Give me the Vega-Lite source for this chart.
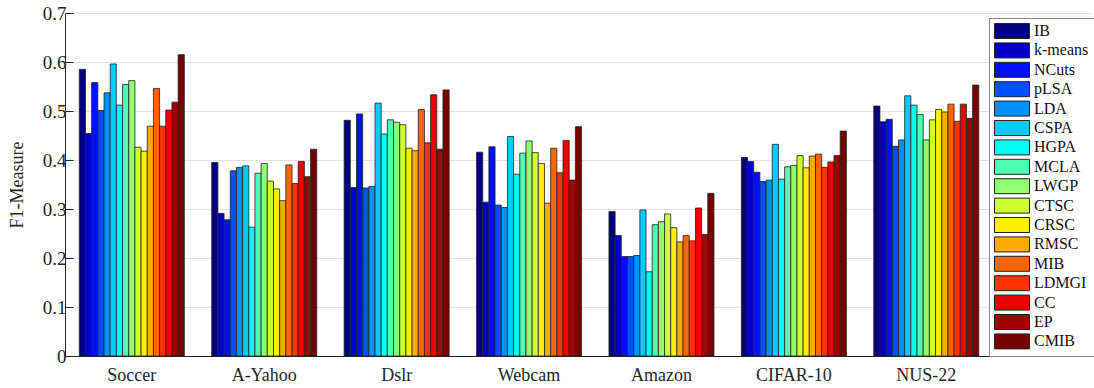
{
  "$schema": "https://vega.github.io/schema/vega-lite/v6.json",
  "autosize": {"type": "none"},
  "padding": {"left": 65, "top": 13, "right": 4, "bottom": 32},
  "width": 1025,
  "height": 343,
  "background": "white",
  "config": {
    "view": {"stroke": null},
    "font": "Liberation Serif",
    "axis": {"labelFont": "Liberation Serif", "titleFont": "Liberation Serif", "labelColor": "#262626", "titleColor": "#262626", "domainColor": "#262626", "tickColor": "#262626"},
    "legend": {"labelFont": "Liberation Serif"}
  },
  "datasets": {
    "f1": [
      {"g":"Soccer","m":"IB","v":0.585},{"g":"Soccer","m":"k-means","v":0.454},{"g":"Soccer","m":"NCuts","v":0.558},{"g":"Soccer","m":"pLSA","v":0.501},{"g":"Soccer","m":"LDA","v":0.537},{"g":"Soccer","m":"CSPA","v":0.596},{"g":"Soccer","m":"HGPA","v":0.512},{"g":"Soccer","m":"MCLA","v":0.554},{"g":"Soccer","m":"LWGP","v":0.562},{"g":"Soccer","m":"CTSC","v":0.426},{"g":"Soccer","m":"CRSC","v":0.418},{"g":"Soccer","m":"RMSC","v":0.469},{"g":"Soccer","m":"MIB","v":0.546},{"g":"Soccer","m":"LDMGI","v":0.469},{"g":"Soccer","m":"CC","v":0.502},{"g":"Soccer","m":"EP","v":0.518},{"g":"Soccer","m":"CMIB","v":0.615},
      {"g":"A-Yahoo","m":"IB","v":0.395},{"g":"A-Yahoo","m":"k-means","v":0.291},{"g":"A-Yahoo","m":"NCuts","v":0.278},{"g":"A-Yahoo","m":"pLSA","v":0.378},{"g":"A-Yahoo","m":"LDA","v":0.385},{"g":"A-Yahoo","m":"CSPA","v":0.388},{"g":"A-Yahoo","m":"HGPA","v":0.263},{"g":"A-Yahoo","m":"MCLA","v":0.373},{"g":"A-Yahoo","m":"LWGP","v":0.393},{"g":"A-Yahoo","m":"CTSC","v":0.357},{"g":"A-Yahoo","m":"CRSC","v":0.341},{"g":"A-Yahoo","m":"RMSC","v":0.317},{"g":"A-Yahoo","m":"MIB","v":0.390},{"g":"A-Yahoo","m":"LDMGI","v":0.352},{"g":"A-Yahoo","m":"CC","v":0.397},{"g":"A-Yahoo","m":"EP","v":0.366},{"g":"A-Yahoo","m":"CMIB","v":0.422},
      {"g":"Dslr","m":"IB","v":0.481},{"g":"Dslr","m":"k-means","v":0.344},{"g":"Dslr","m":"NCuts","v":0.494},{"g":"Dslr","m":"pLSA","v":0.343},{"g":"Dslr","m":"LDA","v":0.346},{"g":"Dslr","m":"CSPA","v":0.516},{"g":"Dslr","m":"HGPA","v":0.453},{"g":"Dslr","m":"MCLA","v":0.482},{"g":"Dslr","m":"LWGP","v":0.477},{"g":"Dslr","m":"CTSC","v":0.472},{"g":"Dslr","m":"CRSC","v":0.424},{"g":"Dslr","m":"RMSC","v":0.419},{"g":"Dslr","m":"MIB","v":0.503},{"g":"Dslr","m":"LDMGI","v":0.435},{"g":"Dslr","m":"CC","v":0.533},{"g":"Dslr","m":"EP","v":0.422},{"g":"Dslr","m":"CMIB","v":0.543},
      {"g":"Webcam","m":"IB","v":0.416},{"g":"Webcam","m":"k-means","v":0.314},{"g":"Webcam","m":"NCuts","v":0.427},{"g":"Webcam","m":"pLSA","v":0.308},{"g":"Webcam","m":"LDA","v":0.303},{"g":"Webcam","m":"CSPA","v":0.448},{"g":"Webcam","m":"HGPA","v":0.371},{"g":"Webcam","m":"MCLA","v":0.414},{"g":"Webcam","m":"LWGP","v":0.439},{"g":"Webcam","m":"CTSC","v":0.415},{"g":"Webcam","m":"CRSC","v":0.393},{"g":"Webcam","m":"RMSC","v":0.312},{"g":"Webcam","m":"MIB","v":0.424},{"g":"Webcam","m":"LDMGI","v":0.374},{"g":"Webcam","m":"CC","v":0.440},{"g":"Webcam","m":"EP","v":0.359},{"g":"Webcam","m":"CMIB","v":0.468},
      {"g":"Amazon","m":"IB","v":0.295},{"g":"Amazon","m":"k-means","v":0.246},{"g":"Amazon","m":"NCuts","v":0.203},{"g":"Amazon","m":"pLSA","v":0.203},{"g":"Amazon","m":"LDA","v":0.205},{"g":"Amazon","m":"CSPA","v":0.298},{"g":"Amazon","m":"HGPA","v":0.172},{"g":"Amazon","m":"MCLA","v":0.268},{"g":"Amazon","m":"LWGP","v":0.274},{"g":"Amazon","m":"CTSC","v":0.290},{"g":"Amazon","m":"CRSC","v":0.262},{"g":"Amazon","m":"RMSC","v":0.233},{"g":"Amazon","m":"MIB","v":0.246},{"g":"Amazon","m":"LDMGI","v":0.235},{"g":"Amazon","m":"CC","v":0.302},{"g":"Amazon","m":"EP","v":0.248},{"g":"Amazon","m":"CMIB","v":0.332},
      {"g":"CIFAR-10","m":"IB","v":0.405},{"g":"CIFAR-10","m":"k-means","v":0.397},{"g":"CIFAR-10","m":"NCuts","v":0.375},{"g":"CIFAR-10","m":"pLSA","v":0.356},{"g":"CIFAR-10","m":"LDA","v":0.359},{"g":"CIFAR-10","m":"CSPA","v":0.432},{"g":"CIFAR-10","m":"HGPA","v":0.361},{"g":"CIFAR-10","m":"MCLA","v":0.386},{"g":"CIFAR-10","m":"LWGP","v":0.389},{"g":"CIFAR-10","m":"CTSC","v":0.409},{"g":"CIFAR-10","m":"CRSC","v":0.384},{"g":"CIFAR-10","m":"RMSC","v":0.408},{"g":"CIFAR-10","m":"MIB","v":0.412},{"g":"CIFAR-10","m":"LDMGI","v":0.385},{"g":"CIFAR-10","m":"CC","v":0.396},{"g":"CIFAR-10","m":"EP","v":0.409},{"g":"CIFAR-10","m":"CMIB","v":0.459},
      {"g":"NUS-22","m":"IB","v":0.510},{"g":"NUS-22","m":"k-means","v":0.478},{"g":"NUS-22","m":"NCuts","v":0.483},{"g":"NUS-22","m":"pLSA","v":0.428},{"g":"NUS-22","m":"LDA","v":0.441},{"g":"NUS-22","m":"CSPA","v":0.531},{"g":"NUS-22","m":"HGPA","v":0.512},{"g":"NUS-22","m":"MCLA","v":0.493},{"g":"NUS-22","m":"LWGP","v":0.441},{"g":"NUS-22","m":"CTSC","v":0.482},{"g":"NUS-22","m":"CRSC","v":0.503},{"g":"NUS-22","m":"RMSC","v":0.498},{"g":"NUS-22","m":"MIB","v":0.514},{"g":"NUS-22","m":"LDMGI","v":0.479},{"g":"NUS-22","m":"CC","v":0.514},{"g":"NUS-22","m":"EP","v":0.485},{"g":"NUS-22","m":"CMIB","v":0.553}
    ]
  },
  "layer": [
    {
      "mark": {"type": "rule", "color": "#999999", "strokeWidth": 1},
      "encoding": {"y": {"datum": 0.7, "type": "quantitative"}}
    },
    {
      "data": {"name": "f1"},
      "mark": {"type": "bar", "stroke": "#222222", "strokeWidth": 0.8},
      "encoding": {
        "x": {
          "field": "g", "type": "nominal", "sort": null,
          "scale": {"paddingInner": 0.207, "paddingOuter": 0.474, "align": 0.114},
          "axis": {"title": null, "labelAngle": 0, "labelFontSize": 18, "labelPadding": 10, "ticks": false, "domainWidth": 1}
        },
        "xOffset": {
          "field": "m", "type": "nominal",
          "scale": {"domain": ["IB","k-means","NCuts","pLSA","LDA","CSPA","HGPA","MCLA","LWGP","CTSC","CRSC","RMSC","MIB","LDMGI","CC","EP","CMIB"], "paddingInner": 0, "paddingOuter": 0}
        },
        "y": {
          "field": "v", "type": "quantitative",
          "scale": {"domain": [0, 0.7], "nice": false},
          "axis": {"title": "F1-Measure", "titleFontSize": 18, "titleFontWeight": "normal", "titlePadding": 16, "values": [0,0.1,0.2,0.3,0.4,0.5,0.6,0.7], "format": ".1~f", "labelFontSize": 19, "labelPadding": 7, "tickSize": -8, "grid": true, "gridColor": "#e3e3e3", "domainWidth": 1}
        },
        "color": {
          "field": "m", "type": "nominal",
          "scale": {
            "domain": ["IB","k-means","NCuts","pLSA","LDA","CSPA","HGPA","MCLA","LWGP","CTSC","CRSC","RMSC","MIB","LDMGI","CC","EP","CMIB"],
            "range": ["#000080","#0000C8","#0010FF","#0050FF","#0090FF","#00CCFF","#00FFEE","#4DFFB0","#90FF70","#CCFF33","#FFEE00","#FFAA00","#FF6600","#FF3300","#EE0000","#A00000","#770000"]
          },
          "legend": {
            "title": null, "orient": "none", "legendX": 924, "legendY": 5,
            "fillColor": "white", "strokeColor": "#888888", "padding": 5,
            "symbolType": "M-1,-1H3.67V1H-1Z", "symbolSize": 225, "symbolStrokeColor": "#222222", "symbolStrokeWidth": 1, "symbolOpacity": 1,
            "labelFontSize": 16, "labelColor": "#111111", "labelOffset": 24, "rowPadding": -0.6
          }
        }
      }
    }
  ]
}
